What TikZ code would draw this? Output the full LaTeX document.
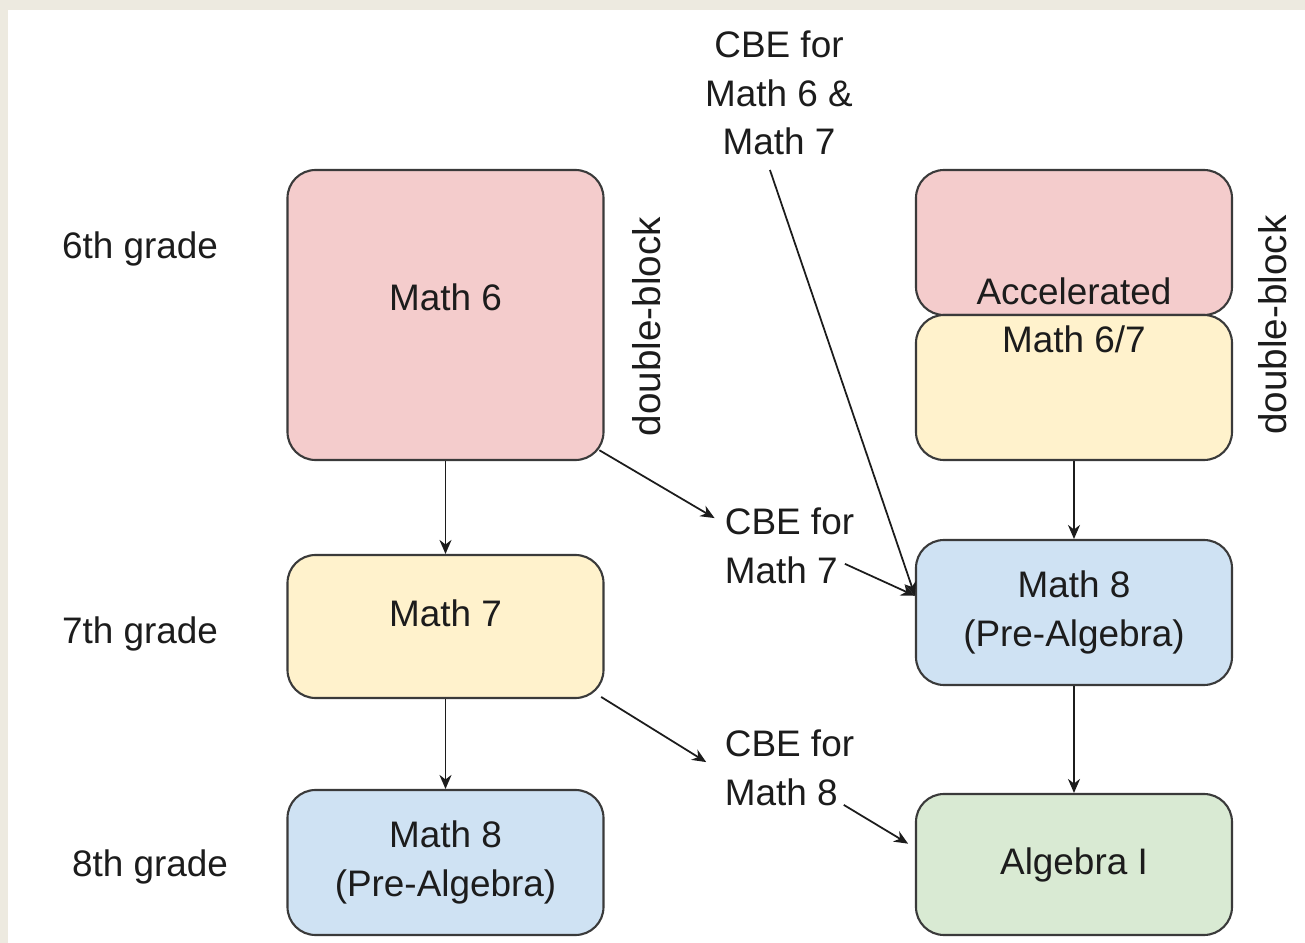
\documentclass[tikz,border=0pt]{standalone}
\usepackage{fontspec}
\setmainfont{Liberation Sans}
\usetikzlibrary{arrows.meta, positioning}

\definecolor{framebg}{HTML}{EDEAE0}
\definecolor{ink}{HTML}{1C1C1C}
\definecolor{rim}{HTML}{3A3A3A}
\definecolor{pinkbox}{HTML}{F4CCCC}
\definecolor{yellowbox}{HTML}{FFF2CC}
\definecolor{bluebox}{HTML}{CFE2F3}
\definecolor{greenbox}{HTML}{D9EAD3}

\begin{document}
\begin{tikzpicture}[
        x=0.1mm,
        y=-0.1mm,
        >={Stealth[length=1.4mm, width=1.2mm]},
        every node/.style={font=\fontsize{10.5}{13.8}\selectfont, text=ink},
        course/.style={draw=rim, line width=0.6pt, rounded corners=2.8mm,
            minimum width=31.6mm, inner sep=0pt, align=center},
        cbe/.style={inner sep=0.1mm},
        flow/.style={->, draw=ink, line width=0.5pt}
    ]
    \useasboundingbox (0,0) rectangle (1305,943);
    \fill[framebg] (0,0) rectangle (1305,943);
    \fill[white] (8,10) rectangle (1305,943);

    % grades
    \node[anchor=base] (g6) at (140,258) {6th grade};
    \node[anchor=base] (g7) at (140,644) {7th grade};
    \node[anchor=base] (g8) at (150,876) {8th grade};

    % regular track
    \node[course, fill=pinkbox, minimum height=29mm,
        label={[yshift=1.8mm]center:Math 6}] (m6) at (445.5,315) {};
    \node[course, fill=yellowbox, minimum height=14.3mm,
        label={[yshift=1.3mm]center:Math 7}] (m7) at (445.5,626.5) {};
    \node[course, fill=bluebox, minimum height=14.5mm] (m8l) at (445.5,862.5) {Math 8\\(Pre-Algebra)};

    % accelerated track
    \node[course, fill=pinkbox, minimum height=14.5mm] (acc6) at (1074,242.5) {};
    \node[course, fill=yellowbox, minimum height=14.5mm] (acc7) at (1074,387.5) {};
    \node[align=center] (acc) at (1074,315.5) {Accelerated\\Math 6/7};
    \node[course, fill=bluebox, minimum height=14.5mm] (m8r) at (1074,612.5) {Math 8\\(Pre-Algebra)};
    \node[course, fill=greenbox, minimum height=14.1mm] (alg) at (1074,864.5) {Algebra I};

    \node[rotate=90, font=\fontsize{11}{13.8}\selectfont] (db1) at (646.5,326.5) {double-block};
    \node[rotate=90, font=\fontsize{11}{13.8}\selectfont] (db2) at (1273,325) {double-block};

    % credit by exam
    \node[cbe, align=center] (cbe67) at (779,93) {CBE for\\Math 6 \&\\Math 7};
    \node[cbe, align=left] (cbe7) at (789.5,546) {CBE for\\Math 7};
    \node[cbe, align=left] (cbe8) at (789.5,768) {CBE for\\Math 8};

    \draw[flow] (m6) -- (m7);
    \draw[flow] (m7) -- (m8l);
    \draw[flow] (acc7) -- (m8r);
    \draw[flow] (m8r) -- (alg);

    \draw[flow, shorten <=-0.6mm, shorten >=1mm] (m6.-41) -- (cbe7.161);
    \draw[flow, shorten <=-1.2mm] (cbe7.-19) -- (m8r.174);
    \draw[flow, shorten <=1.4mm] (cbe67.-102) -- (m8r.174);
    \draw[flow, shorten <=-0.4mm, shorten >=2mm] (m7.south east) -- (cbe8.184);
    \draw[flow, shorten <=-0.5mm, shorten >=0.8mm] (cbe8.-34) -- (alg.174);
\end{tikzpicture}
\end{document}
